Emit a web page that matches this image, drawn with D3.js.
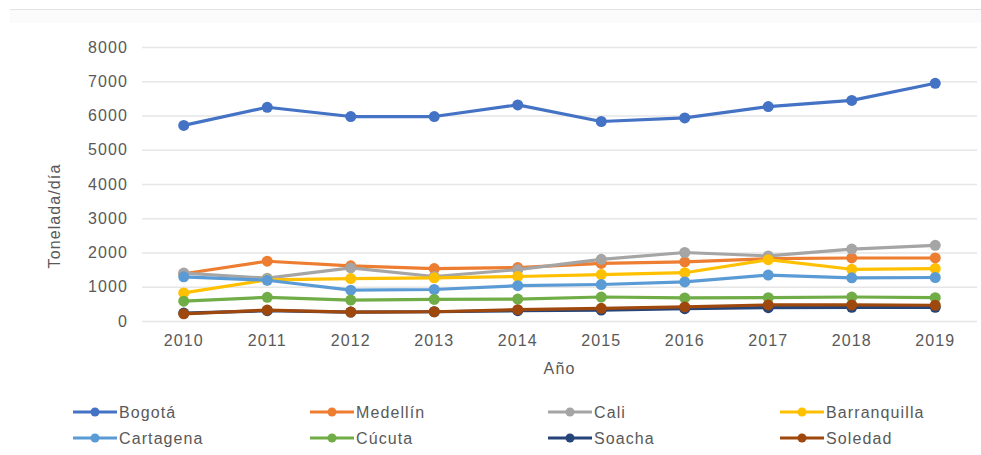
<!DOCTYPE html>
<html lang="es">
<head>
<meta charset="utf-8">
<title>Toneladas por día</title>
<script src="https://d3js.org/d3.v7.min.js"></script>
<style>
  body{margin:0;background:#fff;font-family:"Liberation Sans",Arial,sans-serif;}
  text{fill:#595959;letter-spacing:1.1px;}
</style>
</head>
<body>
<div id="chart"></div>
<script>
// data
var years = ["2010","2011","2012","2013","2014","2015","2016","2017","2018","2019"]
var yTicks = [0,1000,2000,3000,4000,5000,6000,7000,8000]
var cities = ["Bogotá","Medellín","Cali","Barranquilla","Cartagena","Cúcuta","Soacha","Soledad"]
var colors = ["#4472C4","#ED7D31","#A5A5A5","#FFC000","#5B9BD5","#70AD47","#264478","#9E480E"]

var bogota       = [5710,6240,5970,5970,6310,5825,5930,6260,6440,6940]
var medellin     = [1380,1745,1610,1530,1560,1680,1725,1820,1840,1840]
var cali         = [1400,1250,1550,1300,1500,1800,2000,1900,2100,2210]
var barranquilla = [820,1200,1240,1260,1300,1355,1410,1790,1510,1530]
var cartagena    = [1290,1190,900,920,1030,1065,1140,1340,1260,1270]
var cucuta       = [580,690,610,630,640,700,675,680,700,680]
var soacha       = [230,300,260,270,300,320,360,390,400,400]
var soledad      = [210,320,260,270,330,370,410,470,470,460]

var series = [bogota,medellin,cali,barranquilla,cartagena,cucuta,soacha,soledad]

var w = 981, h = 455
var svg = d3.select("#chart").append("svg").attr("width",w).attr("height",h)

// faint frame line at the top
svg.append("rect").attr("x",10).attr("y",9).attr("width",971).attr("height",14).attr("fill","#fbfbfb")
svg.append("line").attr("x1",10).attr("x2",981).attr("y1",9.5).attr("y2",9.5).attr("stroke","#e2e2e2")

var plotL = 142, plotR = 977, plotT = 47, plotB = 321

var xScale = d3.scaleBand().domain(years).range([plotL,plotR])
var yScale = d3.scaleLinear().domain([0,8000]).range([plotB,plotT])

// gridlines
svg.append("g")
  .attr("transform","translate("+plotL+",0)")
  .call(d3.axisLeft(yScale).tickValues(yTicks).tickSize(-(plotR-plotL)).tickFormat(""))
  .call(function(g){
    g.select(".domain").remove()
    g.selectAll("line").attr("stroke","#e6e6e6").attr("stroke-width",1.3)
  })

// y labels
svg.append("g")
  .attr("transform","translate(128,0)")
  .call(d3.axisLeft(yScale).tickValues(yTicks).tickSize(0).tickPadding(0).tickFormat(d3.format("d")))
  .call(function(g){
    g.select(".domain").remove()
    g.selectAll("text").attr("font-size",16).attr("fill","#595959").attr("font-family","Liberation Sans, Arial, sans-serif")
  })

// x labels
svg.append("g")
  .attr("transform","translate(0,"+plotB+")")
  .call(d3.axisBottom(xScale).tickSize(0).tickPadding(14))
  .call(function(g){
    g.select(".domain").remove()
    g.selectAll("text").attr("font-size",16).attr("fill","#595959").attr("font-family","Liberation Sans, Arial, sans-serif")
  })

// axis titles
svg.append("text")
  .attr("transform","translate(60,216) rotate(-90)")
  .attr("text-anchor","middle")
  .attr("font-size",16)
  .text("Tonelada/día")

svg.append("text")
  .attr("x",(plotL+plotR)/2).attr("y",374)
  .attr("text-anchor","middle")
  .attr("font-size",16)
  .text("Año")

// lines
var line = d3.line()
  .x(function(d,i){ return xScale(years[i])+xScale.bandwidth()/2 })
  .y(function(d){ return yScale(d) })

// series drawn in order, later ones on top (as the spreadsheet does)
series.forEach(function(s,k){
  var g = svg.append("g")
  g.append("path")
    .datum(s)
    .attr("d",line)
    .attr("fill","none")
    .attr("stroke",colors[k])
    .attr("stroke-width",3.2)
    .attr("stroke-linejoin","round")
  g.selectAll("circle")
    .data(s)
    .enter()
    .append("circle")
    .attr("cx",function(d,i){ return xScale(years[i])+xScale.bandwidth()/2 })
    .attr("cy",function(d){ return yScale(d) })
    .attr("r",5.5)
    .attr("fill",colors[k])
})

// legend
var legX = [73,310,548,780]
var legY = [412,438]
cities.forEach(function(c,i){
  var x = legX[i%4], y = legY[Math.floor(i/4)]
  var g = svg.append("g").attr("transform","translate("+x+","+y+")")
  g.append("line").attr("x1",0).attr("x2",44).attr("y1",0).attr("y2",0)
    .attr("stroke",colors[i]).attr("stroke-width",3.2)
  g.append("circle").attr("cx",22).attr("cy",0).attr("r",4.5).attr("fill",colors[i])
  g.append("text").attr("x",46).attr("y",6).attr("font-size",16).text(c)
})
</script>
</body>
</html>
